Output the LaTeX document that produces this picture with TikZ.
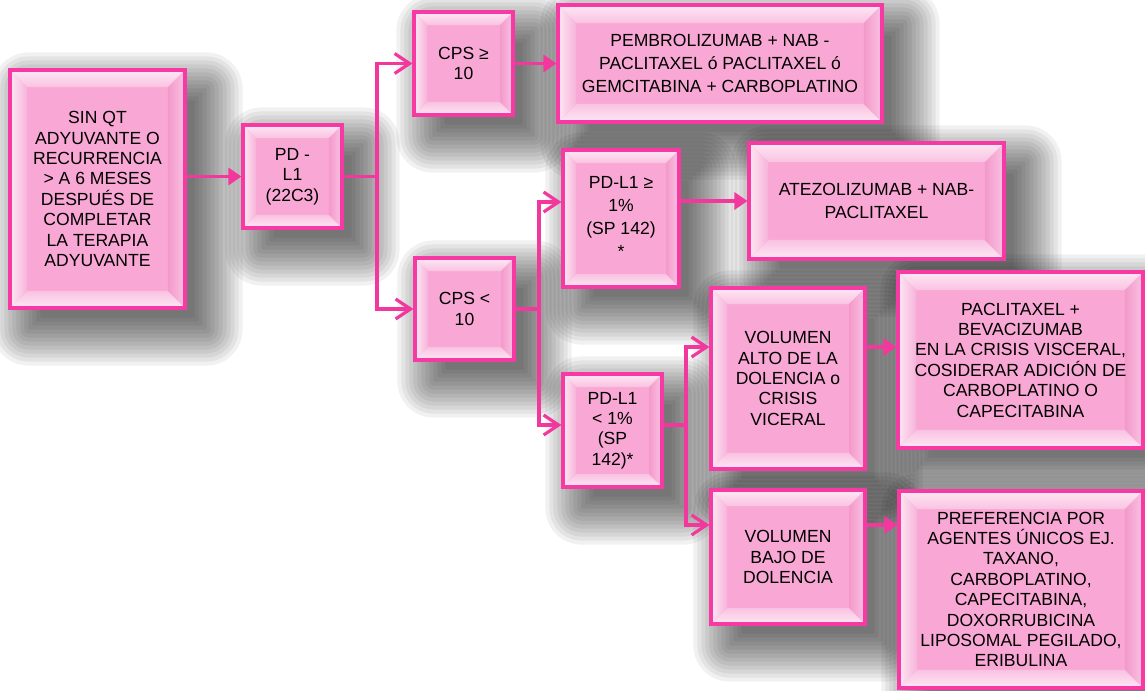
\documentclass[tikz,border=0pt]{standalone}
\usepackage{fontspec}
\setmainfont{Liberation Sans}
\usetikzlibrary{arrows.meta}

\definecolor{boxface}{HTML}{F9A8D5}
\definecolor{boxedge}{HTML}{F73AA3}
\definecolor{bevlight}{HTML}{FDE8F4}
\definecolor{bevmid}{HTML}{FAC2E2}
\definecolor{bevside}{HTML}{F7B3DA}
\definecolor{bevdark}{HTML}{F39ACB}
\definecolor{linkcol}{HTML}{F2389C}

\pgfdeclarelayer{shadowlayer}
\pgfsetlayers{shadowlayer,main}

\tikzset{
  bevel/.code={\def\bevw{#1}},
  pinkbox/.style={
    draw=boxedge, line width=1.8pt, fill=boxface, inner sep=0pt, align=center,
    font=\fontsize{10}{11.6}\selectfont, bevel=0.26cm,
    path picture={
      \coordinate (bSW) at (path picture bounding box.south west);
      \coordinate (bNE) at (path picture bounding box.north east);
      \coordinate (bNW) at (bSW |- bNE);
      \coordinate (bSE) at (bNE |- bSW);
      \coordinate (iNW) at ([xshift=\bevw,yshift=-\bevw]bNW);
      \coordinate (iNE) at ([xshift=-\bevw,yshift=-\bevw]bNE);
      \coordinate (iSE) at ([xshift=-\bevw,yshift=\bevw]bSE);
      \coordinate (iSW) at ([xshift=\bevw,yshift=\bevw]bSW);
      \shade[top color=bevlight, bottom color=bevmid] (bNW) -- (bNE) -- (iNE) -- (iNW) -- cycle;
      \shade[top color=bevmid, bottom color=bevlight] (bSW) -- (bSE) -- (iSE) -- (iSW) -- cycle;
      \shade[left color=bevlight, right color=bevside] (bNW) -- (iNW) -- (iSW) -- (bSW) -- cycle;
      \shade[left color=bevdark, right color=bevmid] (bNE) -- (iNE) -- (iSE) -- (bSE) -- cycle;
    }},
  widelines/.style={font=\fontsize{10}{13}\selectfont},
  link/.style={draw=linkcol, line width=1.8pt},
  solidhead/.style={-{Triangle[length=0.26cm,width=0.34cm]}},
  openhead/.style={-{Straight Barb[length=0.3cm,width=0.4cm]}}
}

% soft grey shadow below and right of a named box
\newcommand\softshadow[1]{%
  \foreach \e in {-12,-8,...,36} {
    \pgfmathsetmacro\rc{max(\e,1)*0.02}
    \fill[black, opacity=0.055, rounded corners=\rc cm]
      ([shift={(20-\e,20-\e)}]#1.north west) rectangle ([shift={(20+\e,20+\e)}]#1.south east);
  }}

\begin{document}
\begin{tikzpicture}[x=0.02cm,y=-0.02cm]
\useasboundingbox (0,0) rectangle (1145,690);

% decision boxes
\node[pinkbox, bevel=0.34cm, minimum width=3.5cm, minimum height=4.76cm] (sin) at (97.5,189)
  {SIN QT\\ADYUVANTE O\\RECURRENCIA\\> A 6 MESES\\DESPUÉS DE\\COMPLETAR\\LA TERAPIA\\ADYUVANTE};
\node[pinkbox, minimum width=1.98cm, minimum height=2.06cm] (pd) at (292.5,176.5)
  {PD -\\L1\\(22C3)};
\node[pinkbox, minimum width=1.98cm, minimum height=2.06cm] (cpsA) at (463.5,63.5)
  {CPS ≥\\10};
\node[pinkbox, widelines, bevel=0.36cm, minimum width=6.48cm, minimum height=2.34cm] (pem) at (720,63.5)
  {PEMBROLIZUMAB + NAB -\\PACLITAXEL ó PACLITAXEL ó\\GEMCITABINA + CARBOPLATINO};
\node[pinkbox, minimum width=1.98cm, minimum height=2.04cm] (cpsB) at (464.5,309)
  {CPS <\\10};
\node[pinkbox, widelines, minimum width=2.32cm, minimum height=2.74cm] (pdA) at (621,218.5)
  {\raisebox{-0.1cm}{\begin{tabular}{@{}c@{}}PD-L1 ≥\\1\%\\(SP 142)\\{*}\end{tabular}}};
\node[pinkbox, widelines, bevel=0.38cm, minimum width=5.1cm, minimum height=2.32cm] (atz) at (876.5,201)
  {ATEZOLIZUMAB + NAB-\\PACLITAXEL};
\node[pinkbox, minimum width=1.98cm, minimum height=2.26cm] (pdB) at (612.5,430.5)
  {\raisebox{-0.26cm}{\begin{tabular}{@{}c@{}}PD-L1\\< 1\%\\(SP\\142)*\end{tabular}}};
\node[pinkbox, bevel=0.32cm, minimum width=3.08cm, minimum height=3.62cm] (volA) at (788,378.5)
  {VOLUMEN\\ALTO DE LA\\DOLENCIA o\\CRISIS\\VICERAL};
\node[pinkbox, bevel=0.36cm, minimum width=4.9cm, minimum height=3.52cm] (pac) at (1020.5,360)
  {PACLITAXEL +\\BEVACIZUMAB\\EN LA CRISIS VISCERAL,\\COSIDERAR ADICIÓN DE\\CARBOPLATINO O\\CAPECITABINA};
\node[pinkbox, bevel=0.32cm, minimum width=3.08cm, minimum height=2.68cm] (volB) at (788,557)
  {VOLUMEN\\BAJO DE\\DOLENCIA};
\node[pinkbox, bevel=0.36cm, minimum width=4.88cm, minimum height=3.94cm] (pref) at (1021,589.5)
  {PREFERENCIA POR\\AGENTES ÚNICOS EJ.\\TAXANO,\\CARBOPLATINO,\\CAPECITABINA,\\DOXORRUBICINA\\LIPOSOMAL PEGILADO,\\ERIBULINA};

% shadows behind every box
\begin{pgfonlayer}{shadowlayer}
  \fill[white] (0,0) rectangle (1145,690);
  \foreach \b in {sin,pd,cpsA,pem,cpsB,pdA,atz,pdB,volA,pac,volB,pref} {\softshadow{\b}}
\end{pgfonlayer}

% branch points
\coordinate (j1) at (377,176.5);
\coordinate (j2) at (539,309);
\coordinate (j3) at (686,425);

% connectors
\draw[link,solidhead] (sin.east |- pd.west) -- (pd.west);
\draw[link] (pd.east) -- (j1);
\draw[link,openhead] (j1) |- (cpsA.west);
\draw[link,openhead] (j1) |- (cpsB.west);
\draw[link,solidhead] (cpsA.east) -- (pem.west |- cpsA.east);
\draw[link] (cpsB.east) -- (j2);
\draw[link,openhead] (j2) |- (pdA.west |- 0,202);
\draw[link,openhead] (j2) |- (pdB.west |- 0,425);
\draw[link,solidhead] (pdA.east |- atz.west) -- (atz.west);
\draw[link] (pdB.east |- j3) -- (j3);
\draw[link,openhead] (j3) |- (volA.west |- 0,347);
\draw[link,openhead] (j3) |- (volB.west |- 0,525);
\draw[link,solidhead] (volA.east |- 0,347) -- (pac.west |- 0,347);
\draw[link,solidhead] (volB.east |- 0,525) -- (pref.west |- 0,525);
\end{tikzpicture}
\end{document}
